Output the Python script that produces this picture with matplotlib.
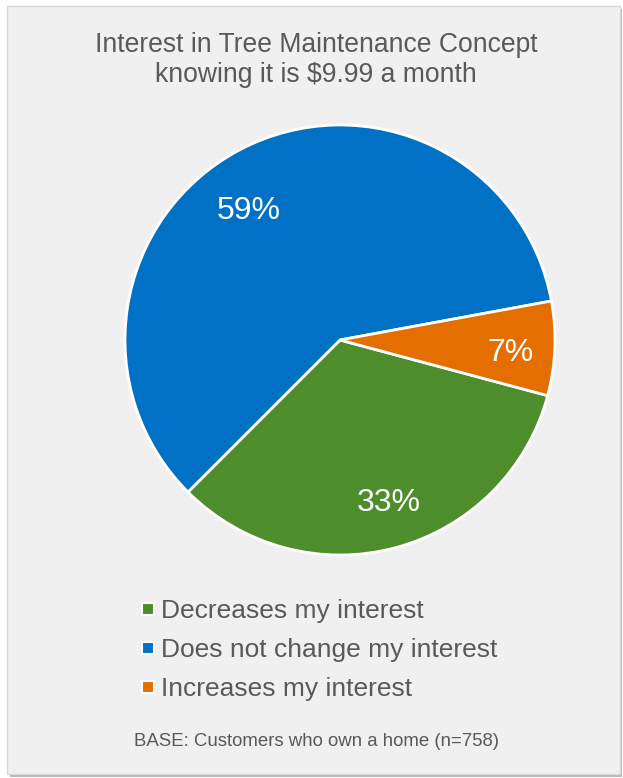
import matplotlib.pyplot as plt
from matplotlib.patches import Rectangle
from matplotlib.lines import Line2D

plt.rcParams['font.family'] = ['Liberation Sans', 'DejaVu Sans']

# survey answers, in legend order
categories = ["Decreases my interest", "Does not change my interest", "Increases my interest"]
shares = [33, 59, 7]
colors = ["#4E8D2C", "#0071C5", "#E46F00"]

title = "Interest in Tree Maintenance Concept\nknowing it is $9.99 a month"
base_note = "BASE: Customers who own a home (n=758)"

W, H = 623, 778
fig = plt.figure(figsize=(W / 100, H / 100), dpi=100)
fig.patch.set_facecolor("white")

# grey card with a soft shadow, kept under the pie
fig.patches.append(Rectangle((10 / W, 1 / H), 612 / W, 768 / H, transform=fig.transFigure,
                             facecolor="#b8b8b8", edgecolor="none", zorder=-2))
fig.patches.append(Rectangle((7 / W, 4 / H), 613 / W, 768 / H, transform=fig.transFigure,
                             facecolor="#f0f0f0", edgecolor="#d9d9d9", lw=1.0, zorder=-1))

fig.text(316 / W, 1 - 60 / H, title, ha="center", va="center", fontsize=19.1,
         color="#595959", linespacing=1.2)

# pie: centre at (340, 340) px, radius 215 px
R = 215
box = 250
ax = fig.add_axes([(340 - box) / W, (H - 340 - box) / H, 2 * box / W, 2 * box / H])
ax.set_zorder(1)
wedges, texts = ax.pie(shares, colors=colors, startangle=-15, counterclock=False,
                       labels=[f"{v}%" for v in shares], labeldistance=0.77,
                       wedgeprops=dict(edgecolor="white", linewidth=2.0),
                       textprops=dict(color="white", fontsize=23))
# small nudges of the percent labels (in px) so they sit like Excel's
nudges = [(6, -3), (-14, -18), (5, -6)]
for t, (dx, dy) in zip(texts, nudges):
    x, y = t.get_position()
    t.set_position((x + dx / R, y + dy / R))
    t.set_ha("center")
    t.set_va("center")
lim = box / R
ax.set_xlim(-lim, lim)
ax.set_ylim(-lim, lim)
ax.set_aspect("equal")
ax.axis("off")

handles = [Line2D([], [], marker="s", linestyle="none", markersize=8,
                  markerfacecolor=c, markeredgecolor="white", markeredgewidth=1.5)
           for c in colors]
leg = fig.legend(handles, categories, loc="upper left", bbox_to_anchor=(140 / W, 1 - 599 / H),
                 frameon=False, fontsize=19, handlelength=0.6, handletextpad=0.2,
                 labelspacing=0.57, borderaxespad=0, borderpad=0)
for t in leg.get_texts():
    t.set_color("#595959")

fig.text(316 / W, 1 - 742 / H, base_note, ha="center", va="center", fontsize=13.4,
         color="#595959")

fig.savefig("out.png", dpi=100, facecolor=fig.get_facecolor())
